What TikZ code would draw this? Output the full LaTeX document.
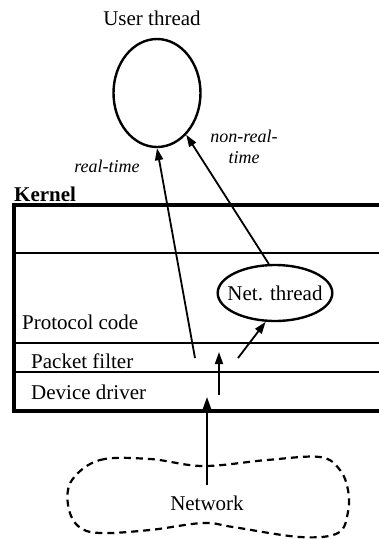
\documentclass[tikz,border=0pt]{standalone}
\usepackage{fontspec}
\setmainfont{Liberation Serif}
\usetikzlibrary{arrows.meta,shapes.geometric}
\begin{document}
\begin{tikzpicture}[x=1pt,y=-1pt,
  lbl/.style={font=\fontsize{21}{25}\selectfont, inner sep=0pt},
  itl/.style={font=\fontsize{18}{21}\selectfont\itshape, inner sep=0pt, align=center},
  thread/.style={draw, ellipse, line width=2.4pt, inner sep=0pt},
  arr/.style={line width=1.8pt, -{Triangle[length=12pt,width=8pt]}},
  layer/.style={line width=2.2pt},
  kernelbox/.style={line width=4.2pt},
  cloud/.style={line width=2.2pt, dash pattern=on 7pt off 5pt}]
\useasboundingbox (0,0) rectangle (379,539);

% user-level thread
\node[lbl] (utitle) at (152,18) {User thread};
\node[thread, minimum width=87pt, minimum height=108pt] (user) at (157,93) {};

% kernel box, open on the right
\node[lbl, font=\fontsize{21}{25}\selectfont\bfseries, anchor=west] (kernel) at (14,194) {Kernel};
\draw[kernelbox] (381,205) -- (14,205) -- (14,411) -- (381,411);
\draw[layer] (14,253) -- (381,253);
\draw[layer] (14,343) -- (381,343);
\draw[layer] (14,372) -- (381,372);

\node[lbl, anchor=west] (proto) at (22,322) {Protocol code};
\node[lbl, anchor=west] (pfilt) at (31,361) {Packet filter};
\node[lbl, anchor=west] (ddrv) at (31,392) {Device driver};

% kernel network thread
\node[thread, lbl, inner xsep=-7pt, inner ysep=0pt,
      minimum width=114pt, minimum height=56pt] (net) at (275,293) {Net. thread};

% network cloud
\draw[cloud] plot[smooth cycle, tension=0.6] coordinates {
  (72,480) (100,460) (150,459) (203,466) (267,460) (320,457)
  (340,470) (348,490) (348,512) (338,533) (300,537) (233,527)
  (203,523) (150,530) (100,533) (78,526) (68,505)};
\node[lbl] (netw) at (207,503) {Network};

% packet paths
\coordinate (src) at (207,485);
\coordinate (dd) at (219,395);
\coordinate (pf) at (238,358);
\coordinate (rt) at (195,358);
\coordinate (ddtip) at (207,397);
\coordinate (pftip) at (219,352);
\draw[arr] (src) -- (ddtip);
\draw[arr] (dd) -- (pftip);
\draw[arr] (pf) -- (net.-108);
\draw[arr] (rt) -- (user.south);
\draw[arr] (net.102) -- (user.-55);

\node[itl] (rtl) at (107,166) {real-time};
\node[itl] (nrtl) at (244,147) {non-real-\\time};
\end{tikzpicture}
\end{document}
